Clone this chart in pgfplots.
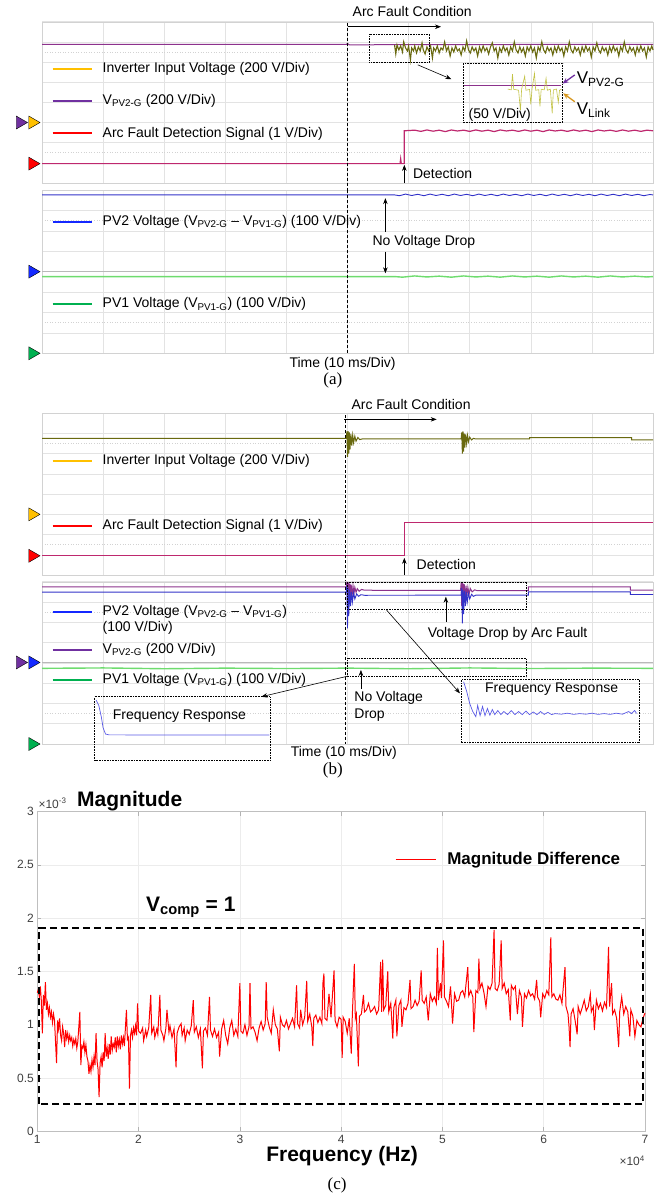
\documentclass[border=0pt]{standalone}
\usepackage{fontspec}
\setmainfont{Liberation Sans}
\newfontfamily\serif{Liberation Serif}
\usepackage{pgfplots}
\usepackage{pgfplotstable}
\pgfplotsset{compat=1.18}
\usetikzlibrary{arrows.meta}

\definecolor{legyel}{RGB}{255,192,0}
\definecolor{legpur}{RGB}{112,48,160}
\definecolor{legred}{RGB}{255,0,0}
\definecolor{legblu}{RGB}{20,40,255}
\definecolor{leggrn}{RGB}{0,176,80}
\definecolor{trolive}{RGB}{105,105,15}
\definecolor{trolivel}{RGB}{195,195,70}
\definecolor{trpur}{RGB}{140,50,140}
\definecolor{trred}{RGB}{190,40,110}
\definecolor{trblu}{RGB}{50,50,200}
\definecolor{trgrn}{RGB}{110,220,110}
\definecolor{insblu}{RGB}{90,90,230}
\definecolor{gold}{RGB}{215,150,30}

\newcommand{\fs}{\fontsize{14}{16}\selectfont}
\newcommand{\fl}{\fontsize{17}{19}\selectfont}

\pgfplotsset{
  osc/.style={
    scale only axis, width=611pt, xmin=0, xmax=10, ymin=0, ymax=8,
    xtick={0,...,10}, ytick={0,...,8}, xticklabels={}, yticklabels={},
    tick label style={opacity=0},
    major tick length=0pt, grid=major,
    major grid style={gray!22, line width=0.5pt},
    axis line style={gray!35}, clip=false,
  },
  tri/.style={only marks, forget plot, mark=triangle*, mark size=7.5pt,
    mark options={rotate=-90, draw=none, fill=#1}},
}
\tikzset{
  arr/.style={-{Stealth[length=6pt,width=4.5pt]}, line width=0.6pt, black},
  box/.style={densely dotted, line width=0.6pt, black},
  vdash/.style={densely dashed, line width=0.6pt, black},
  legline/.style={line width=2pt, color=#1},
  subdiv/.style={gray!35, dotted, line width=0.6pt},
}

% magnitude difference, x in 1e4 Hz, y in 1e-3
\pgfplotstableread{
x y
1.00 1.30
1.01 1.33
1.02 1.26
1.03 1.36
1.04 1.22
1.05 0.92
1.06 1.28
1.07 1.18
1.08 1.40
1.09 1.14
1.10 1.20
1.11 1.10
1.12 1.16
1.13 1.07
1.14 1.12
1.15 1.02
1.16 1.10
1.17 1.04
1.19 0.64
1.20 1.04
1.21 0.96
1.22 1.06
1.23 0.90
1.24 0.85
1.25 0.98
1.26 0.92
1.27 0.79
1.28 0.95
1.29 0.87
1.30 0.92
1.31 0.84
1.32 0.90
1.33 0.85
1.34 0.88
1.35 0.80
1.36 0.86
1.37 0.82
1.38 0.87
1.39 0.78
1.40 0.84
1.42 1.12
1.43 0.62
1.44 0.80
1.45 0.78
1.46 0.84
1.47 0.74
1.48 0.81
1.49 0.70
1.50 0.66
1.51 0.54
1.52 0.62
1.53 0.56
1.54 0.67
1.55 0.60
1.56 0.70
1.57 0.62
1.58 0.92
1.59 0.66
1.60 0.58
1.61 0.32
1.62 0.64
1.63 0.70
1.64 0.60
1.65 0.74
1.66 0.66
1.67 0.92
1.68 0.70
1.69 0.78
1.70 0.68
1.71 0.82
1.72 0.72
1.73 0.89
1.74 0.76
1.75 0.82
1.76 0.79
1.77 0.88
1.78 0.74
1.79 0.89
1.80 0.80
1.81 0.86
1.82 0.77
1.83 0.90
1.84 0.82
1.85 0.88
1.86 0.80
1.88 1.14
1.89 0.86
1.90 0.88
1.91 0.40
1.92 0.90
1.93 0.95
1.94 0.88
1.95 0.97
1.96 0.92
1.97 0.99
1.98 0.90
1.99 1.20
2.00 0.94
2.02 0.92
2.04 0.97
2.05 0.85
2.07 0.95
2.08 0.89
2.10 0.97
2.12 1.28
2.13 0.92
2.15 0.98
2.16 0.88
2.18 0.96
2.19 0.91
2.21 1.28
2.22 0.95
2.24 0.90
2.25 0.85
2.27 0.97
2.28 1.14
2.30 0.93
2.31 0.99
2.33 0.88
2.35 0.96
2.37 0.60
2.38 0.92
2.40 0.98
2.42 1.01
2.43 0.90
2.45 0.97
2.46 0.85
2.48 0.95
2.50 0.91
2.52 0.99
2.54 1.23
2.55 0.93
2.57 0.98
2.59 0.88
2.61 0.96
2.63 0.59
2.64 0.94
2.66 0.97
2.68 0.90
2.70 1.26
2.71 0.95
2.73 0.89
2.75 0.96
2.77 0.88
2.79 0.93
2.80 0.70
2.82 0.96
2.84 1.04
2.86 0.90
2.88 0.82
2.90 0.97
2.92 1.04
2.94 0.90
2.96 0.96
2.98 0.89
3.00 1.39
3.01 0.94
3.03 0.92
3.05 1.00
3.07 0.90
3.09 0.98
3.10 1.39
3.11 0.96
3.13 0.98
3.15 0.93
3.17 0.85
3.19 0.97
3.21 1.03
3.23 0.95
3.25 1.01
3.26 1.40
3.27 1.07
3.29 0.98
3.31 0.92
3.33 1.14
3.35 1.00
3.37 0.96
3.39 0.75
3.40 1.07
3.42 1.00
3.44 0.98
3.46 1.04
3.48 0.96
3.50 1.01
3.52 1.06
3.54 0.98
3.56 1.37
3.57 1.01
3.59 0.97
3.60 1.14
3.62 1.00
3.64 1.07
3.66 1.41
3.67 1.03
3.69 1.10
3.71 0.98
3.72 0.80
3.73 1.06
3.75 1.09
3.77 1.02
3.79 1.07
3.81 1.01
3.82 1.39
3.83 1.48
3.84 1.06
3.86 1.04
3.88 1.29
3.90 1.07
3.93 1.51
3.94 1.04
3.96 0.98
3.98 1.07
4.00 1.05
4.01 0.69
4.02 1.07
4.04 1.03
4.06 0.92
4.08 1.06
4.10 0.73
4.11 1.08
4.13 1.57
4.14 1.06
4.15 1.10
4.17 0.61
4.18 1.08
4.20 1.10
4.22 1.28
4.23 1.12
4.25 1.14
4.27 1.20
4.29 1.12
4.31 1.14
4.33 1.17
4.35 1.10
4.37 1.14
4.39 1.59
4.40 1.12
4.41 1.61
4.42 1.14
4.44 1.18
4.46 1.50
4.47 1.12
4.49 1.20
4.51 0.87
4.52 1.16
4.54 1.23
4.55 0.89
4.57 1.18
4.59 1.23
4.60 0.98
4.62 1.16
4.64 1.14
4.66 1.20
4.68 1.42
4.69 1.15
4.71 1.17
4.73 1.23
4.75 1.18
4.77 1.22
4.79 1.51
4.80 1.23
4.82 1.20
4.84 1.26
4.86 1.04
4.88 1.29
4.90 1.22
4.92 1.26
4.94 1.20
4.95 1.72
4.96 1.23
4.98 1.39
4.99 1.25
5.01 1.79
5.02 1.26
5.04 1.22
5.06 1.17
5.08 1.36
5.10 1.01
5.12 1.29
5.14 1.22
5.16 1.23
5.18 1.30
5.20 1.32
5.22 1.26
5.25 1.54
5.26 1.27
5.28 1.32
5.30 1.26
5.31 0.93
5.33 1.32
5.35 1.30
5.36 1.62
5.37 1.34
5.39 1.39
5.41 1.30
5.43 1.17
5.45 1.36
5.47 1.33
5.49 1.39
5.51 1.89
5.52 1.34
5.54 1.32
5.56 1.38
5.58 1.79
5.59 1.34
5.61 1.39
5.63 1.29
5.65 1.33
5.67 1.04
5.68 1.37
5.70 1.33
5.72 1.36
5.74 1.10
5.76 1.32
5.78 1.26
5.79 0.98
5.81 1.29
5.83 1.25
5.85 1.32
5.87 1.27
5.89 1.29
5.91 1.24
5.93 1.42
5.94 1.26
5.96 1.22
5.97 1.07
5.99 1.29
6.01 1.25
6.03 1.32
6.05 1.28
6.07 1.82
6.08 1.26
6.10 1.29
6.12 1.24
6.14 1.23
6.16 1.28
6.18 1.20
6.21 1.54
6.22 1.17
6.24 1.10
6.25 0.98
6.26 0.79
6.27 1.10
6.29 1.15
6.31 1.04
6.33 0.91
6.34 1.17
6.36 1.10
6.38 1.16
6.40 1.23
6.42 1.13
6.44 1.17
6.46 1.29
6.47 1.12
6.49 1.17
6.50 0.95
6.52 1.23
6.54 1.15
6.56 1.20
6.58 1.13
6.60 1.21
6.62 1.16
6.64 1.73
6.65 1.17
6.67 1.39
6.68 1.10
6.70 1.14
6.72 1.06
6.74 0.79
6.75 1.12
6.77 1.26
6.79 1.10
6.81 1.17
6.83 1.12
6.85 0.89
6.86 1.14
6.88 1.08
6.90 0.89
6.92 1.04
6.94 1.00
6.96 0.98
6.98 1.06
7.00 1.11
}\magdiff

\begin{document}
\begin{tikzpicture}

% ---------------- (a) upper ----------------
\begin{axis}[osc, height=161.3pt, at={(42pt,-183pt)}, anchor=south west]
\draw[subdiv] (axis cs:0,6.5) -- (axis cs:10,6.5);
\draw[subdiv] (axis cs:0,1.5) -- (axis cs:10,1.5);
\addplot[trpur, line width=1pt] coordinates {(0,6.87) (4.98,6.87) (5.0,6.92) (5.03,6.85) (5.6,6.86) (10,6.88)};
\addplot[trolive, line width=1.1pt] coordinates {
(5.77,6.85) (5.79,6.4) (5.81,6.85) (5.84,6.6) (5.87,6.8) (5.9,6.5) (5.92,7.0) (5.95,6.7) (5.98,6.55) (6.0,6.8)
(6.03,6.1) (6.05,6.7) (6.08,6.55) (6.1,6.8) (6.13,6.45) (6.16,6.75) (6.19,6.55) (6.22,6.95) (6.24,6.6) (6.27,6.4)
(6.3,6.75) (6.33,6.55) (6.36,6.8) (6.39,6.2) (6.41,6.7) (6.44,6.55) (6.47,6.8) (6.5,6.45) (6.53,6.7) (6.56,6.6)
(6.59,7.0) (6.62,6.55) (6.65,6.75) (6.68,6.3) (6.71,6.7) (6.74,6.5) (6.77,6.8) (6.8,6.55) (6.83,6.65) (6.86,6.35)
(6.89,6.75) (6.92,6.55) (6.95,7.05) (6.98,6.6) (7.01,6.45) (7.04,6.75) (7.07,6.55) (7.1,6.7) (7.13,6.3) (7.16,6.75)
(7.19,6.5) (7.22,6.8) (7.25,6.55) (7.28,6.7) (7.31,6.4) (7.34,6.75) (7.37,6.95) (7.4,6.55) (7.43,6.7) (7.46,6.2)
(7.49,6.7) (7.52,6.5) (7.55,6.8) (7.58,6.55) (7.61,6.7) (7.64,6.35) (7.67,6.75) (7.7,6.55) (7.73,7.0) (7.76,6.6)
(7.79,6.45) (7.82,6.75) (7.85,6.5) (7.88,6.7) (7.91,6.3) (7.94,6.75) (7.97,6.55) (8.0,6.8) (8.03,6.5) (8.06,6.7)
(8.09,6.2) (8.12,6.75) (8.15,6.55) (8.18,7.0) (8.21,6.6) (8.24,6.45) (8.27,6.75) (8.3,6.55) (8.33,6.7) (8.36,6.35)
(8.39,6.75) (8.42,6.5) (8.45,6.8) (8.48,6.55) (8.51,6.7) (8.54,6.3) (8.57,6.75) (8.6,6.55) (8.63,7.0) (8.66,6.6)
(8.69,6.45) (8.72,6.75) (8.75,6.55) (8.78,6.7) (8.81,6.35) (8.84,6.75) (8.87,6.5) (8.9,6.8) (8.93,6.55) (8.96,6.7)
(8.99,6.25) (9.02,6.75) (9.05,6.55) (9.08,6.95) (9.11,6.6) (9.14,6.45) (9.17,6.75) (9.2,6.55) (9.23,6.7) (9.26,6.35)
(9.29,6.75) (9.32,6.5) (9.35,6.8) (9.38,6.55) (9.41,6.7) (9.44,6.3) (9.47,6.75) (9.5,6.55) (9.53,7.0) (9.56,6.6)
(9.59,6.45) (9.62,6.75) (9.65,6.55) (9.68,6.7) (9.71,6.35) (9.74,6.75) (9.77,6.5) (9.8,6.8) (9.83,6.55) (9.86,6.7)
(9.89,6.25) (9.92,6.75) (9.95,6.55) (9.98,6.8) (10,6.6)};
\addplot[trred, line width=1.2pt] coordinates {(0,0.96) (5.86,0.96) (5.87,1.2) (5.88,0.96) (5.93,0.96) (5.93,2.59)
(6.1,2.62) (6.2,2.56) (6.3,2.63) (6.4,2.57) (6.5,2.62) (6.6,2.55) (6.7,2.63) (6.8,2.58) (6.9,2.62) (7.0,2.56)
(7.1,2.63) (7.2,2.57) (7.3,2.62) (7.4,2.55) (7.5,2.63) (7.6,2.58) (7.7,2.62) (7.8,2.56) (7.9,2.63) (8.0,2.57)
(8.1,2.62) (8.2,2.55) (8.3,2.63) (8.4,2.58) (8.5,2.62) (8.6,2.56) (8.7,2.63) (8.8,2.57) (8.9,2.62) (9.0,2.55)
(9.1,2.63) (9.2,2.58) (9.3,2.62) (9.4,2.56) (9.5,2.63) (9.6,2.57) (9.7,2.62) (9.8,2.56) (9.9,2.62) (10,2.59)};
% zoomed inset traces
\addplot[trpur, line width=0.9pt] coordinates {(6.9,4.82) (8.5,4.82)};
\addplot[trolivel, line width=0.6pt] coordinates {(7.62,4.66) (7.68,4.62) (7.7,5.4) (7.72,4.65) (7.8,4.6) (7.83,3.6)
(7.85,4.66) (7.9,5.3) (7.92,4.6) (7.98,4.64) (8.0,3.9) (8.02,4.66) (8.06,5.44) (8.08,4.6) (8.13,4.63) (8.15,3.8)
(8.17,4.65) (8.22,4.62) (8.25,5.2) (8.27,4.6) (8.32,4.65) (8.35,3.46) (8.37,4.62) (8.42,4.66) (8.45,4.0) (8.47,4.6) (8.5,4.65)};
\addplot[tri=legpur] coordinates {(-0.36,3)};
\addplot[tri=legyel] coordinates {(-0.155,3)};
\addplot[tri=legred] coordinates {(-0.155,0.96)};
% annotations
\node[font=\fs] at (axis cs:6.06,8.5) {Arc Fault Condition};
\draw[arr] (axis cs:5.0,7.75) -- (axis cs:6.53,7.75);
\draw[vdash] (axis cs:5,7.95) -- (axis cs:5,-0.35);
\draw[box] (axis cs:5.35,5.99) rectangle (axis cs:6.34,7.38);
\draw[arr] (axis cs:6.15,5.86) -- (axis cs:6.7,5.15);
\draw[box] (axis cs:6.89,3.02) rectangle (axis cs:8.52,5.94);
\node[font=\fs, anchor=west, inner sep=0pt] at (axis cs:6.98,3.37) {(50 V/Div)};
\node[font=\fl, anchor=west, inner sep=0pt] at (axis cs:8.75,5.15) {V\textsubscript{PV2-G}};
\node[font=\fl, anchor=west, inner sep=0pt] at (axis cs:8.75,3.6) {V\textsubscript{Link}};
\draw[-{Stealth[length=6pt,width=5pt]}, legpur, line width=1.3pt] (axis cs:8.72,5.36) -- (axis cs:8.52,4.93);
\draw[-{Stealth[length=6pt,width=5pt]}, gold, line width=1.3pt] (axis cs:8.72,4.03) -- (axis cs:8.53,4.45);
\draw[arr] (axis cs:5.93,0.0) -- (axis cs:5.93,0.9);
\node[font=\fs, anchor=west, inner sep=0pt] at (axis cs:6.07,0.45) {Detection};
% legend
\draw[legline=legyel] (axis cs:0.175,5.65) -- (axis cs:0.82,5.65);
\node[font=\fs, anchor=west, inner sep=0pt] at (axis cs:0.99,5.65) {Inverter Input Voltage (200 V/Div)};
\draw[legline=legpur] (axis cs:0.175,4.07) -- (axis cs:0.82,4.07);
\node[font=\fs, anchor=west, inner sep=0pt] at (axis cs:0.99,4.07) {V\textsubscript{PV2-G} (200 V/Div)};
\draw[legline=legred] (axis cs:0.175,2.46) -- (axis cs:0.82,2.46);
\node[font=\fs, anchor=west, inner sep=0pt] at (axis cs:0.99,2.46) {Arc Fault Detection Signal (1 V/Div)};
\end{axis}

% ---------------- (a) lower ----------------
\begin{axis}[osc, height=163.3pt, at={(42pt,-353.3pt)}, anchor=south west]
\draw[subdiv] (axis cs:0,6.5) -- (axis cs:10,6.5);
\draw[subdiv] (axis cs:0,1.5) -- (axis cs:10,1.5);
\draw[gray!55, line width=0.9pt] (axis cs:0,4) -- (axis cs:10,4);
\addplot[trblu, line width=0.9pt] coordinates {(0,7.76) (5.77,7.76) (5.85,7.72) (5.95,7.8) (6.05,7.73) (6.15,7.79)
(6.25,7.72) (6.35,7.8) (6.45,7.73) (6.55,7.79) (6.65,7.72) (6.75,7.8) (6.85,7.73) (6.95,7.79) (7.05,7.72) (7.15,7.8)
(7.25,7.73) (7.35,7.79) (7.45,7.72) (7.55,7.8) (7.65,7.73) (7.75,7.79) (7.85,7.72) (7.95,7.8) (8.05,7.73) (8.15,7.79)
(8.25,7.72) (8.35,7.8) (8.45,7.73) (8.55,7.79) (8.65,7.72) (8.75,7.8) (8.85,7.73) (8.95,7.79) (9.05,7.72) (9.15,7.8)
(9.25,7.73) (9.35,7.79) (9.45,7.72) (9.55,7.8) (9.65,7.73) (9.75,7.79) (9.85,7.72) (9.95,7.78) (10,7.76)};
\addplot[trgrn, line width=1.4pt] coordinates {(0,3.76) (5.77,3.76) (5.9,3.73) (6.1,3.79) (6.3,3.74) (6.5,3.78)
(6.7,3.73) (6.9,3.79) (7.1,3.74) (7.3,3.78) (7.5,3.73) (7.7,3.79) (7.9,3.74) (8.1,3.78) (8.3,3.73) (8.5,3.79)
(8.7,3.74) (8.9,3.78) (9.1,3.73) (9.3,3.79) (9.5,3.74) (9.7,3.78) (9.9,3.74) (10,3.76)};
\addplot[tri=legblu] coordinates {(-0.155,4.0)};
\addplot[tri=leggrn] coordinates {(-0.155,0)};
\draw[vdash] (axis cs:5,8) -- (axis cs:5,0);
\draw[arr] (axis cs:5.62,5.96) -- (axis cs:5.62,7.6);
\draw[arr] (axis cs:5.62,4.98) -- (axis cs:5.62,3.92);
\node[font=\fs] at (axis cs:6.25,5.47) {No Voltage Drop};
\draw[legline=legblu] (axis cs:0.175,6.45) -- (axis cs:0.82,6.45);
\node[font=\fs, anchor=west, inner sep=0pt] at (axis cs:0.99,6.45) {PV2 Voltage (V\textsubscript{PV2-G} – V\textsubscript{PV1-G}) (100 V/Div)};
\draw[legline=leggrn] (axis cs:0.175,2.4) -- (axis cs:0.82,2.4);
\node[font=\fs, anchor=west, inner sep=0pt] at (axis cs:0.99,2.4) {PV1 Voltage (V\textsubscript{PV1-G}) (100 V/Div)};
\node[font=\fs] at (axis cs:4.92,-0.5) {Time (10 ms/Div)};
\node[font=\serif\fl] at (axis cs:4.76,-1.31) {(a)};
\end{axis}

% ---------------- (b) upper ----------------
\begin{axis}[osc, height=161.7pt, at={(42pt,-575pt)}, anchor=south west]
\draw[subdiv] (axis cs:0,6.5) -- (axis cs:10,6.5);
\draw[subdiv] (axis cs:0,1.5) -- (axis cs:10,1.5);
\addplot[trolive, line width=1pt] coordinates {(0,6.76) (4.98,6.76) (4.99,7.1) (5.0,5.85) (5.01,7.12) (5.02,6.0)
(5.03,7.05) (5.04,6.2) (5.055,6.98) (5.07,6.4) (5.085,6.92) (5.1,6.55) (5.12,6.86) (5.14,6.62) (5.17,6.8) (5.2,6.7)
(5.25,6.74) (6.86,6.73) (6.87,7.05) (6.88,6.0) (6.89,7.1) (6.9,6.1) (6.91,7.0) (6.92,6.3) (6.935,6.95) (6.95,6.5)
(6.965,6.9) (6.98,6.6) (7.0,6.82) (7.03,6.68) (7.06,6.76) (7.1,6.73) (7.98,6.73) (7.98,6.8) (9.65,6.8) (9.65,6.68) (10,6.68)};
\addplot[trred, line width=1.1pt] coordinates {(0,0.95) (5.94,0.95) (5.94,2.59) (10,2.59)};
\addplot[tri=legyel] coordinates {(-0.155,3)};
\addplot[tri=legred] coordinates {(-0.155,0.95)};
\node[font=\fs] at (axis cs:6.04,8.45) {Arc Fault Condition};
\draw[arr] (axis cs:4.95,7.7) -- (axis cs:6.46,7.7);
\draw[vdash] (axis cs:4.96,7.9) -- (axis cs:4.96,-0.33);
\draw[arr] (axis cs:5.93,0.0) -- (axis cs:5.93,0.85);
\node[font=\fs, anchor=west, inner sep=0pt] at (axis cs:6.13,0.5) {Detection};
\draw[legline=legyel] (axis cs:0.175,5.66) -- (axis cs:0.82,5.66);
\node[font=\fs, anchor=west, inner sep=0pt] at (axis cs:0.99,5.66) {Inverter Input Voltage (200 V/Div)};
\draw[legline=legred] (axis cs:0.175,2.44) -- (axis cs:0.82,2.44);
\node[font=\fs, anchor=west, inner sep=0pt] at (axis cs:0.99,2.44) {Arc Fault Detection Signal (1 V/Div)};
\end{axis}

% ---------------- (b) lower ----------------
\begin{axis}[osc, height=162.3pt, at={(42pt,-744pt)}, anchor=south west]
\draw[subdiv] (axis cs:0,6.5) -- (axis cs:10,6.5);
\draw[subdiv] (axis cs:0,1.5) -- (axis cs:10,1.5);
\draw[gray!55, line width=0.9pt] (axis cs:0,4.02) -- (axis cs:10,4.02);
\addplot[trpur, line width=1pt] coordinates {(0,7.75) (4.98,7.75) (4.99,8.0) (5.0,6.9) (5.005,7.98) (5.01,6.95)
(5.02,7.95) (5.03,7.1) (5.04,7.9) (5.05,7.2) (5.06,7.85) (5.075,7.3) (5.09,7.8) (5.105,7.4) (5.12,7.72) (5.14,7.48)
(5.16,7.66) (5.19,7.53) (5.23,7.62) (5.28,7.58) (6.85,7.57) (6.86,7.95) (6.87,6.8) (6.875,7.95) (6.88,6.9) (6.89,7.92)
(6.9,7.05) (6.91,7.88) (6.925,7.2) (6.94,7.8) (6.955,7.3) (6.97,7.72) (6.99,7.4) (7.01,7.66) (7.04,7.5) (7.08,7.6)
(7.12,7.56) (7.96,7.56) (7.96,7.75) (9.63,7.75) (9.63,7.59) (10,7.59)};
\addplot[trblu, line width=0.9pt] coordinates {(0,7.49) (4.98,7.49) (4.99,7.8) (5.0,5.7) (5.01,7.7) (5.02,6.3)
(5.035,7.6) (5.05,6.8) (5.065,7.5) (5.08,7.0) (5.1,7.45) (5.12,7.15) (5.15,7.4) (5.18,7.28) (5.22,7.36) (5.28,7.33)
(6.86,7.34) (6.87,7.7) (6.88,5.95) (6.89,7.6) (6.9,6.4) (6.915,7.55) (6.93,6.8) (6.945,7.5) (6.96,7.0) (6.98,7.42)
(7.0,7.15) (7.03,7.38) (7.06,7.28) (7.1,7.34) (7.96,7.34) (7.96,7.5) (9.63,7.5) (9.63,7.37) (10,7.37)};
\addplot[trgrn, line width=1.4pt] coordinates {(0,3.73) (1,3.75) (2,3.71) (3,3.74) (4,3.72) (5,3.74) (6,3.71)
(7,3.75) (8,3.72) (9,3.74) (10,3.73)};
% insets: frequency responses
\addplot[insblu, line width=0.7pt] coordinates {(0.885,2.17) (0.93,1.9) (0.97,1.35) (1.0,0.8) (1.04,0.49) (1.1,0.45) (3.72,0.44)};
\addplot[insblu, line width=0.7pt] coordinates {(6.9,3.07) (6.95,2.6) (7.0,2.0) (7.05,1.6) (7.1,1.35) (7.13,1.9)
(7.17,1.4) (7.21,1.85) (7.25,1.4) (7.29,1.75) (7.33,1.42) (7.37,1.7) (7.41,1.45) (7.46,1.65) (7.51,1.45) (7.56,1.6)
(7.62,1.45) (7.68,1.65) (7.74,1.45) (7.8,1.6) (7.86,1.45) (7.92,1.62) (7.98,1.45) (8.04,1.58) (8.1,1.45) (8.16,1.6)
(8.22,1.46) (8.28,1.56) (8.34,1.45) (8.4,1.5) (8.5,1.47) (8.6,1.52) (8.7,1.46) (8.8,1.5) (8.9,1.47) (9.0,1.52)
(9.1,1.46) (9.2,1.5) (9.3,1.46) (9.4,1.52) (9.5,1.47) (9.6,1.6) (9.65,1.5) (9.7,1.65) (9.73,1.51)};
\addplot[tri=legpur] coordinates {(-0.36,4.02)};
\addplot[tri=legblu] coordinates {(-0.155,4.02)};
\addplot[tri=leggrn] coordinates {(-0.155,0)};
\draw[vdash] (axis cs:4.96,8) -- (axis cs:4.96,0);
\draw[box] (axis cs:4.99,6.64) rectangle (axis cs:7.93,7.98);
\draw[arr] (axis cs:6.61,6.03) -- (axis cs:6.61,7.26);
\node[font=\fs] at (axis cs:7.62,5.42) {Voltage Drop by Arc Fault};
\draw[arr] (axis cs:5.64,6.6) -- (axis cs:6.84,2.5);
\draw[box] (axis cs:4.99,3.32) rectangle (axis cs:7.93,4.22);
\draw[arr] (axis cs:5.22,2.7) -- (axis cs:5.22,3.65);
\node[font=\fs, anchor=west, inner sep=0pt] at (axis cs:5.11,2.25) {No Voltage};
\node[font=\fs, anchor=west, inner sep=0pt] at (axis cs:5.11,1.4) {Drop};
\draw[arr] (axis cs:5.01,3.35) -- (axis cs:3.59,2.33);
\draw[box] (axis cs:0.86,-0.82) rectangle (axis cs:3.73,2.33);
\node[font=\fs] at (axis cs:2.25,1.35) {Frequency Response};
\draw[box] (axis cs:6.87,0.06) rectangle (axis cs:9.78,3.19);
\node[font=\fs] at (axis cs:8.34,2.7) {Frequency Response};
\draw[legline=legblu] (axis cs:0.175,6.52) -- (axis cs:0.82,6.52);
\node[font=\fs, anchor=west, inner sep=0pt] at (axis cs:0.99,6.52) {PV2 Voltage (V\textsubscript{PV2-G} – V\textsubscript{PV1-G})};
\node[font=\fs, anchor=west, inner sep=0pt] at (axis cs:0.99,5.7) {(100 V/Div)};
\draw[legline=legpur] (axis cs:0.175,4.63) -- (axis cs:0.82,4.63);
\node[font=\fs, anchor=west, inner sep=0pt] at (axis cs:0.99,4.63) {V\textsubscript{PV2-G} (200 V/Div)};
\draw[legline=leggrn] (axis cs:0.175,3.15) -- (axis cs:0.82,3.15);
\node[font=\fs, anchor=west, inner sep=0pt] at (axis cs:0.99,3.15) {PV1 Voltage (V\textsubscript{PV1-G}) (100 V/Div)};
\node[font=\fs] at (axis cs:4.94,-0.46) {Time (10 ms/Div)};
\node[font=\serif\fl] at (axis cs:4.76,-1.28) {(b)};
\end{axis}

% ---------------- (c) ----------------
\begin{axis}[scale only axis, width=607.7pt, height=319.8pt, at={(37.3pt,-1131.3pt)}, anchor=south west,
  xmin=1, xmax=7, ymin=0, ymax=3, xtick={1,...,7}, ytick={0,0.5,...,3},
  grid=major, major grid style={gray!15, line width=0.5pt},
  axis line style={gray!50}, tick style={gray!60, line width=0.5pt},
  tick align=inside, major tick length=4pt,
  ticklabel style={font=\fontsize{12}{14}\selectfont, text=black!75},
  /pgf/number format/assume math mode=true,
  clip=false,
  legend style={at={(rel axis cs:0.588,0.85)}, anchor=west, draw=none, fill=none,
    inner sep=0pt, font=\bfseries\fontsize{17}{20}\selectfont,
    /tikz/every odd column/.append style={column sep=9pt}},
  legend image code/.code={\draw[red, line width=1.5pt] (0pt,0pt) -- (40pt,0pt);},
]
\addplot[red, line width=1pt] table {\magdiff};
\addlegendentry{Magnitude Difference}
\draw[line width=2pt, dash pattern=on 7pt off 4pt] (axis cs:1.02,0.255) rectangle (axis cs:6.98,1.91);
\node[font=\bfseries\fontsize{21}{24}\selectfont, anchor=base west, inner sep=0pt] at (axis cs:2.073,2.062) {V\textsubscript{comp} = 1};
\node[font=\bfseries\fontsize{21}{24}\selectfont, anchor=base west, inner sep=0pt] at (axis cs:1.392,3.05) {Magnitude};
\node[font=\fontsize{12}{14}\selectfont, text=black!75, anchor=base west, inner sep=0pt] at (axis cs:1.01,3.03) {×10\textsuperscript{-3}};
\node[font=\bfseries\fontsize{21}{24}\selectfont, anchor=base, inner sep=0pt] at (axis cs:4.01,-0.279) {Frequency (Hz)};
\node[font=\fontsize{12}{14}\selectfont, text=black!75, anchor=base east, inner sep=0pt] at (axis cs:7.0,-0.325) {×10\textsuperscript{4}};
\node[font=\serif\fl] at (axis cs:3.96,-0.505) {(c)};
\end{axis}

\pgfresetboundingbox
\path[use as bounding box] (0pt,0pt) rectangle (660pt,-1196pt);
\end{tikzpicture}
\end{document}
